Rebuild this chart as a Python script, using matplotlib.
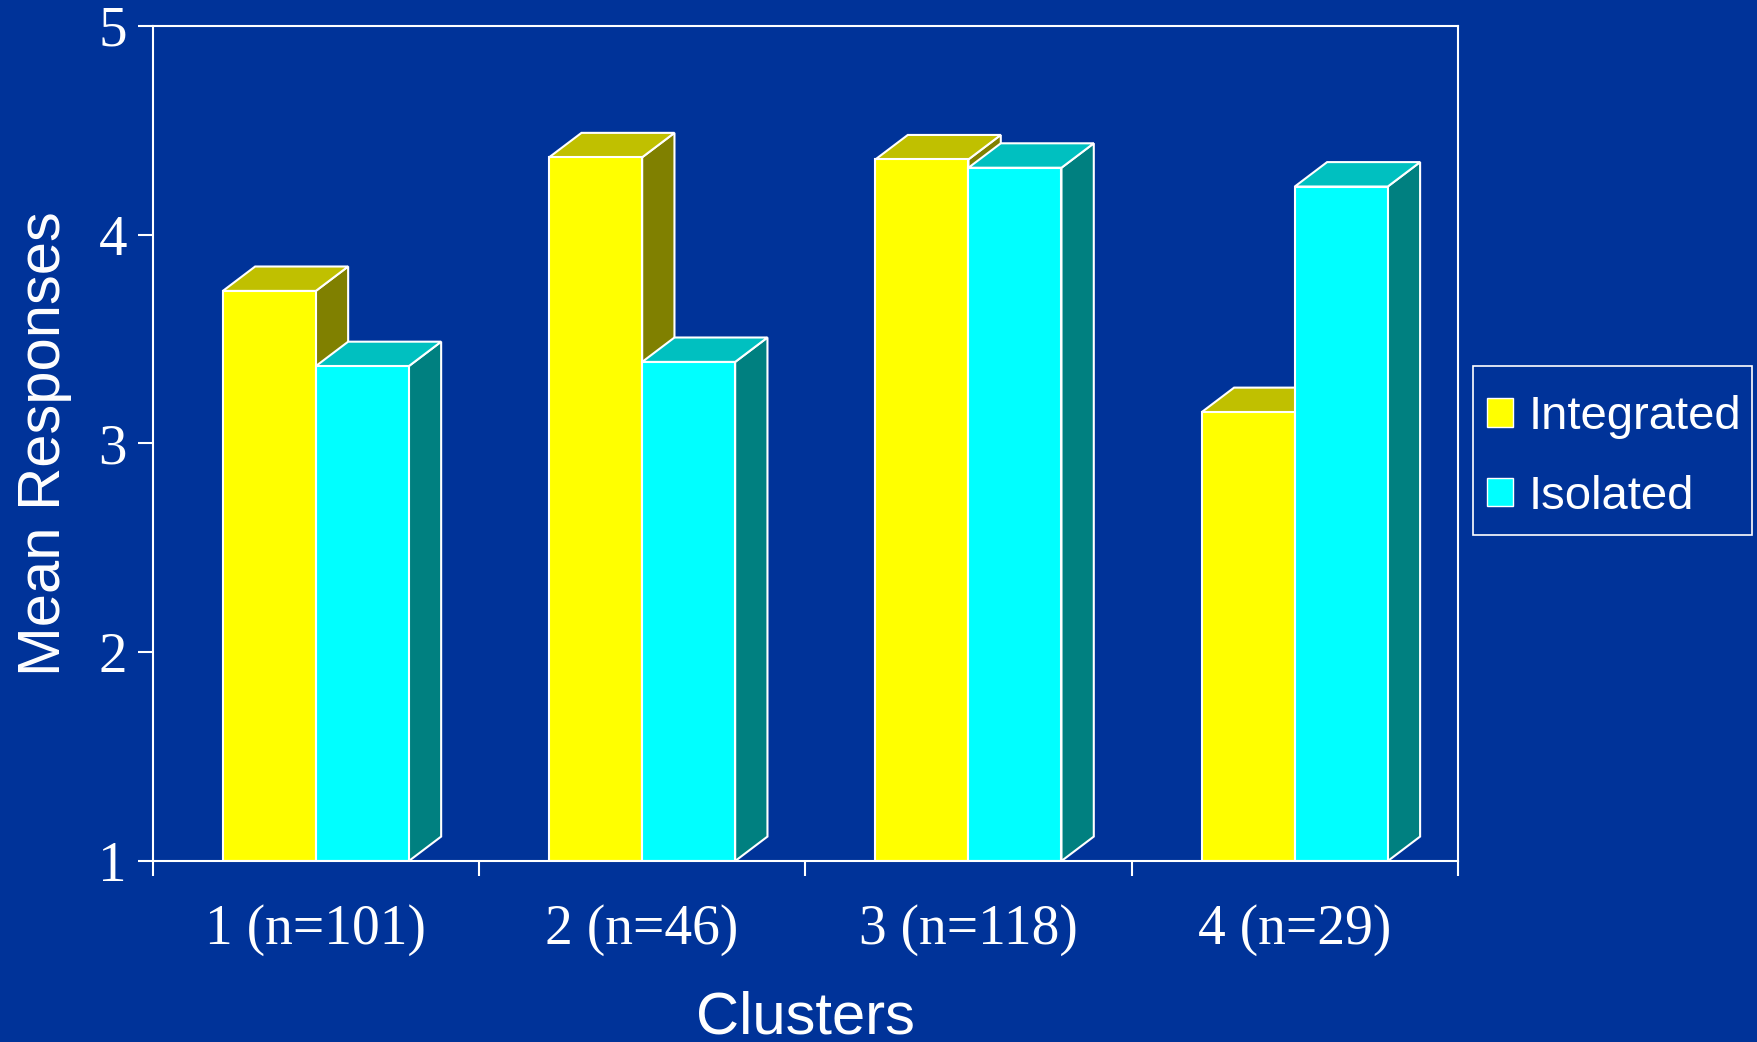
import matplotlib
matplotlib.use('Agg')
import matplotlib.pyplot as plt
from matplotlib.patches import Polygon, Patch, Rectangle

clusters = ['1 (n=101)', '2 (n=46)', '3 (n=118)', '4 (n=29)']
integrated = [3.73, 4.37, 4.36, 3.15]
isolated = [3.37, 3.39, 4.32, 4.23]

BG = '#003399'
SERIF = ['Liberation Serif', 'DejaVu Serif']
SANS = ['Liberation Sans', 'DejaVu Sans']

# front, top, side colours of each series
yellow = ('#ffff00', '#c0c000', '#808000')
cyan = ('#00ffff', '#00c0c0', '#008080')


def draw_bar(ax, x0, width, bottom, top, colors, dx=0.099, dy=0.117):
    front, top_c, side_c = colors
    side = [(x0 + width, bottom), (x0 + width + dx, bottom + dy),
            (x0 + width + dx, top + dy), (x0 + width, top)]
    roof = [(x0, top), (x0 + width, top), (x0 + width + dx, top + dy), (x0 + dx, top + dy)]
    face = [(x0, bottom), (x0 + width, bottom), (x0 + width, top), (x0, top)]
    for pts, c in [(side, side_c), (roof, top_c), (face, front)]:
        ax.add_patch(Polygon(pts, closed=True, fc=c, ec='white', lw=1.5, joinstyle='miter'))


fig = plt.figure(figsize=(17.57, 10.42), dpi=100, facecolor=BG)
ax = fig.add_axes([0.0869, 0.1737, 0.7429, 0.8016], facecolor=BG)

w = 0.285
for i in range(len(clusters)):
    c = i + 0.5
    draw_bar(ax, c - w, w, 1, integrated[i], yellow)
    draw_bar(ax, c, w, 1, isolated[i], cyan)

ax.set_xlim(0, 4)
ax.set_ylim(1, 5)
for s in ax.spines.values():
    s.set_color('white')
    s.set_linewidth(1.5)

ax.set_yticks([1, 2, 3, 4, 5])
ax.set_xticks([0, 1, 2, 3, 4])
ax.set_xticklabels([])
ax.set_xticks([0.5, 1.5, 2.5, 3.5], minor=True)
ax.set_xticklabels(clusters, minor=True)
ax.tick_params(axis='both', which='major', colors='white', width=1.5, length=10.5)
ax.tick_params(axis='y', labelsize=41, pad=8)
ax.tick_params(axis='x', which='minor', length=0, pad=31, labelsize=40, colors='white')
for lbl in ax.get_yticklabels() + ax.get_xticklabels(minor=True):
    lbl.set_family(SERIF)

ax.set_ylabel('Mean Responses', fontsize=43, color='white', family=SANS)
ax.yaxis.set_label_coords(-0.062, 0.5)
ax.set_xlabel('Clusters', fontsize=43, color='white', family=SANS)
ax.xaxis.set_label_coords(0.5, -0.155)

# legend box drawn separately so its size can follow the reference
fig.patches.append(Rectangle((1473 / 1757, 1 - 535 / 1042), 279 / 1757, 169 / 1042,
                             transform=fig.transFigure, fill=False, ec='white', lw=1.2))
handles = [Patch(fc=yellow[0], ec='white', lw=1), Patch(fc=cyan[0], ec='white', lw=1)]
fig.legend(handles, ['Integrated', 'Isolated'], loc='center',
           bbox_to_anchor=(1614 / 1757, 1 - 457 / 1042), borderaxespad=0,
           prop={'family': SANS, 'size': 34}, labelcolor='white',
           handlelength=0.55, handleheight=0.55, handletextpad=0.33,
           labelspacing=0.75, borderpad=0, frameon=False)

fig.savefig('out.png', dpi=100, facecolor=BG)
